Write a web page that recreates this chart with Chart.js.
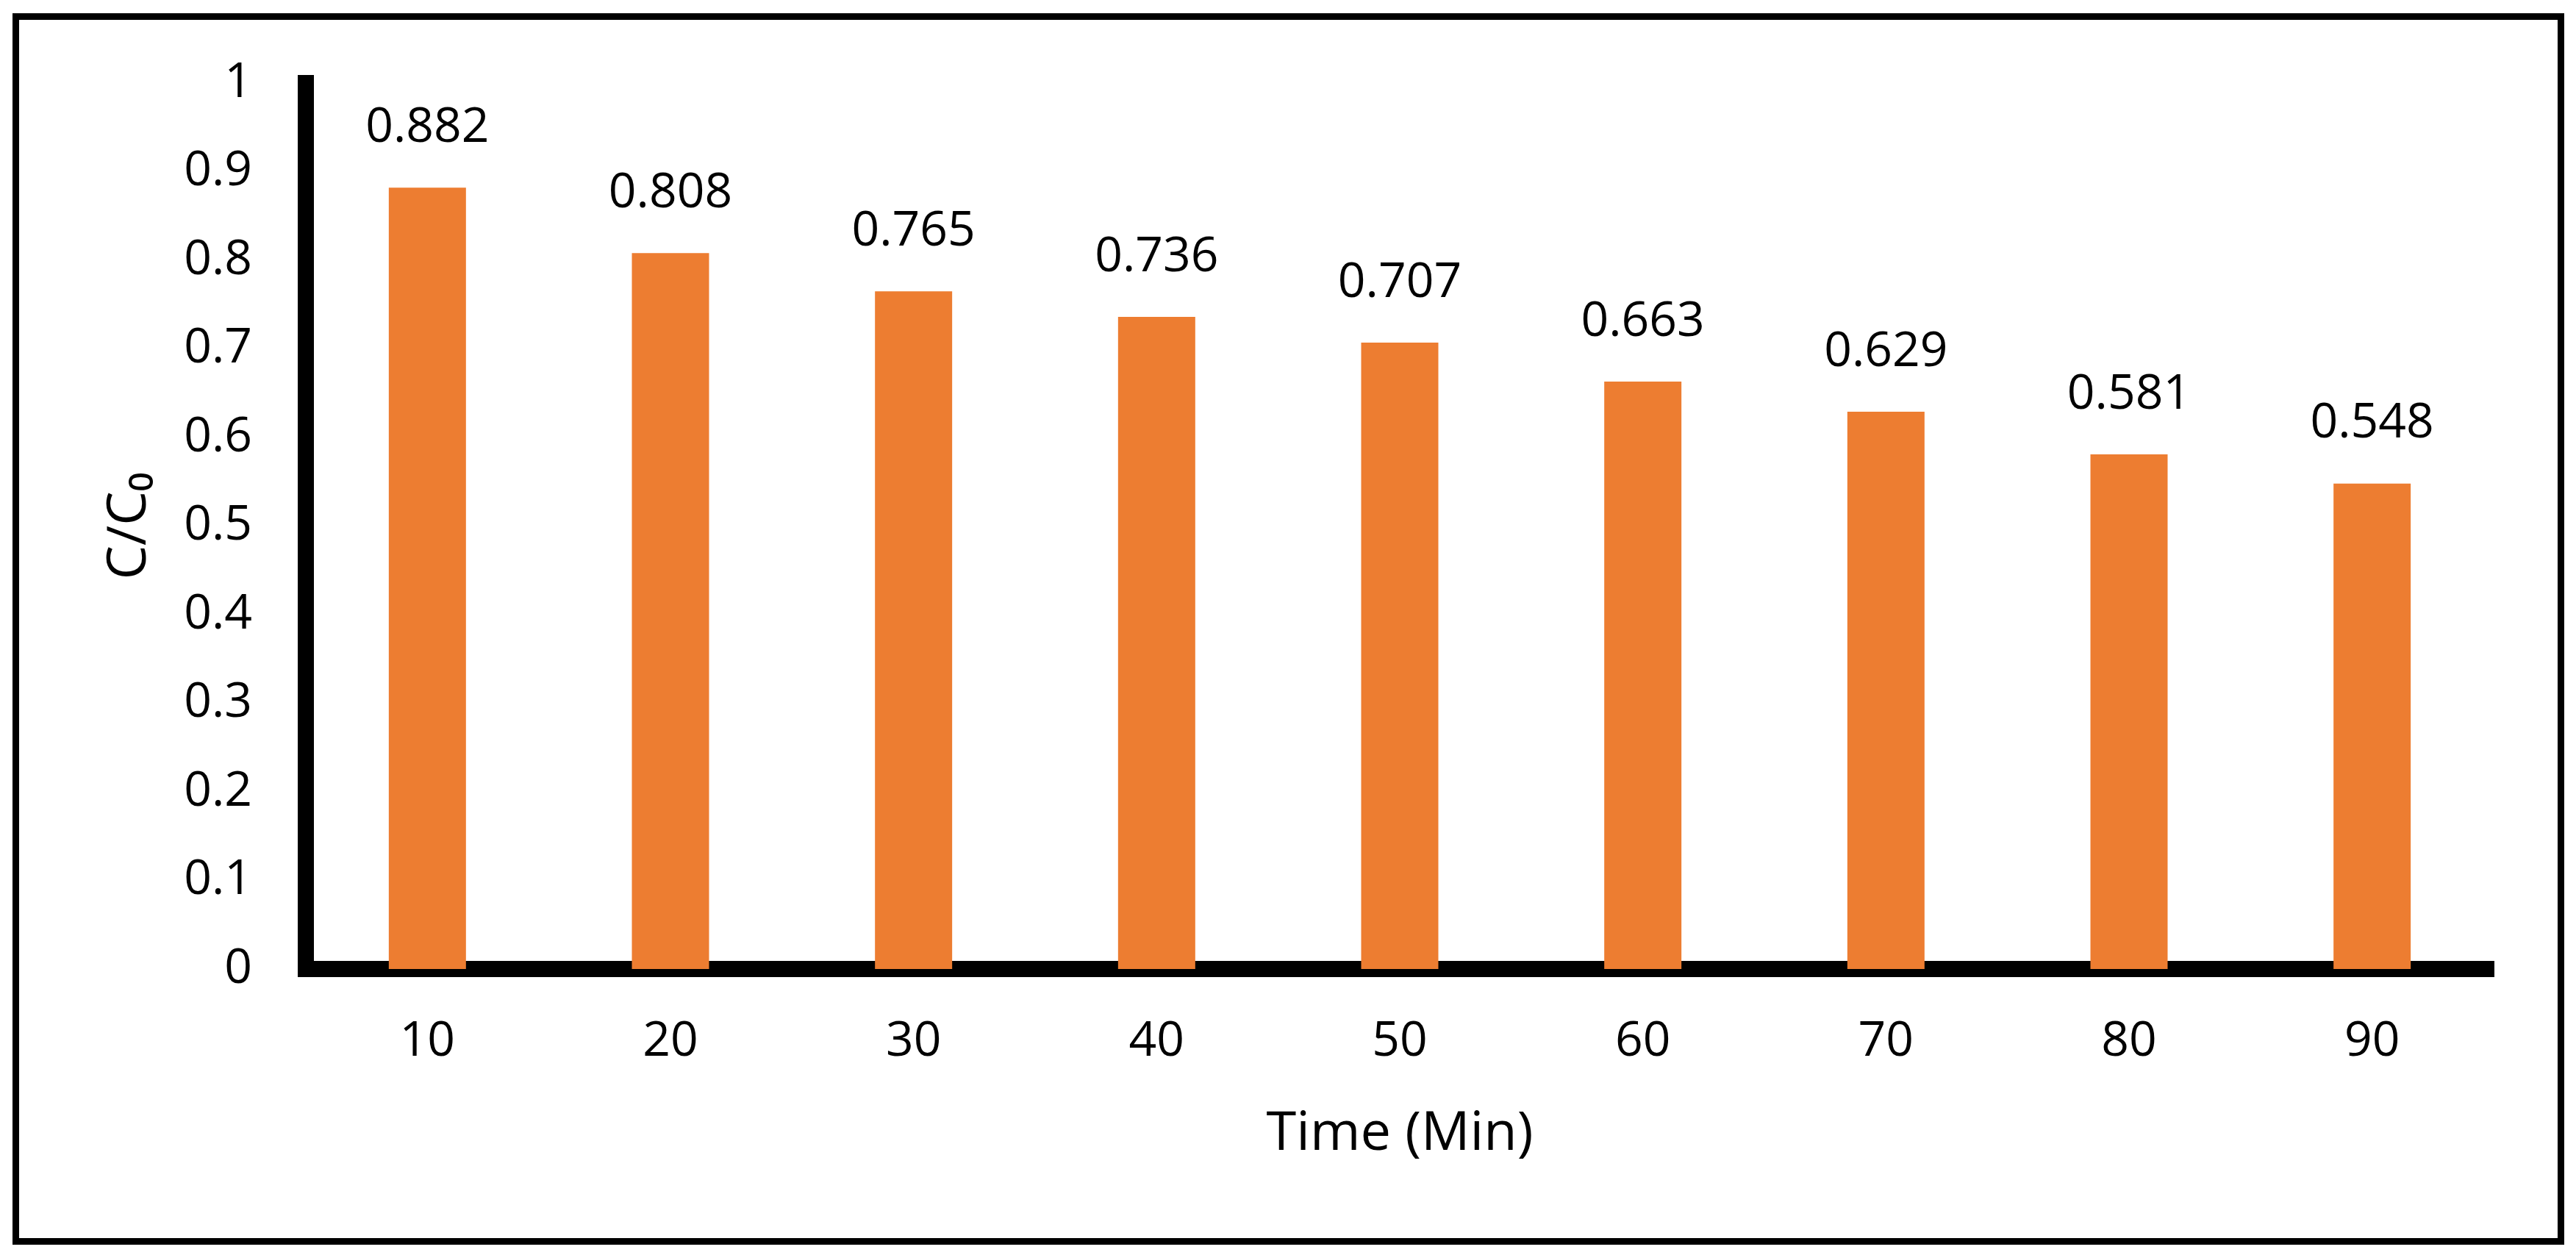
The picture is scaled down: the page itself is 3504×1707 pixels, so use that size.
<!DOCTYPE html>
<html>
<head>
<meta charset="utf-8">
<title>C/C0 x Time</title>
<script src="https://cdn.jsdelivr.net/npm/chart.js"></script>
<style>
  body { margin: 0; background: #ffffff; }
  canvas { display: block; }
</style>
</head>
<body>
<canvas id="grafico-barras" width="3504" height="1707"></canvas>
<script>
// dados
const tempos = ['10', '20', '30', '40', '50', '60', '70', '80', '90'];
const razaoC = [0.882, 0.808, 0.765, 0.736, 0.707, 0.663, 0.629, 0.581, 0.548];
const ticksY = ['0', '0.1', '0.2', '0.3', '0.4', '0.5', '0.6', '0.7', '0.8', '0.9', '1'];

const fonte = 'Open Sans';

// valores em cima de cada barra
const rotulosBarras = {
  id: 'rotulosBarras',
  afterDatasetsDraw(chart) {
    const ctx = chart.ctx;
    const meta = chart.getDatasetMeta(0);
    ctx.save();
    ctx.font = `66px "${fonte}"`;
    ctx.fillStyle = '#000000';
    ctx.textAlign = 'center';
    ctx.textBaseline = 'middle';
    meta.data.forEach((barra, i) => {
      ctx.fillText(razaoC[i].toFixed(3), barra.x, barra.y - 81);
    });
    ctx.restore();
  }
};

// moldura preta em volta da figura
const moldura = {
  id: 'moldura',
  afterDraw(chart) {
    const ctx = chart.ctx;
    ctx.save();
    ctx.strokeStyle = '#000000';
    ctx.lineWidth = 9;
    ctx.strokeRect(21.5, 22.5, 3462, 1666);
    ctx.restore();
  }
};

criarGrafico();

function criarGrafico() {
  const ctx = document.getElementById('grafico-barras');

  new Chart(ctx, {
    type: 'bar',
    data: {
      labels: tempos,
      datasets: [
        {
          label: 'C/C0',
          data: razaoC,
          backgroundColor: '#ED7D31',
          barPercentage: 0.3175,
          categoryPercentage: 1
        }
      ]
    },
    options: {
      responsive: false,
      animation: false,
      layout: {
        padding: { top: 113, right: 112, bottom: 0, left: 0 }
      },
      plugins: {
        legend: { display: false },
        tooltip: { enabled: false }
      },
      scales: {
        x: {
          z: 1,
          grid: { display: false, drawTicks: false, tickLength: 0 },
          border: { display: true, color: '#000000', width: 22 },
          ticks: {
            color: '#000000',
            font: { family: fonte, size: 66 },
            padding: 60
          },
          title: {
            display: true,
            text: 'Time (Min)',
            color: '#000000',
            font: { family: fonte, size: 74 },
            padding: { top: 0, bottom: 120 }
          },
          afterFit(scale) {
            scale.height = 389;
          }
        },
        y: {
          z: 1,
          min: 0,
          max: 1,
          grid: { display: false, drawTicks: false, tickLength: 0 },
          border: { display: true, color: '#000000', width: 22 },
          ticks: {
            stepSize: 0.1,
            color: '#000000',
            font: { family: fonte, size: 66 },
            padding: 73,
            callback: (valor, i) => ticksY[i]
          },
          title: {
            display: true,
            text: 'C/C\u2080',
            color: '#000000',
            font: { family: fonte, size: 74 },
            padding: { top: 133, bottom: 0 }
          },
          afterFit(scale) {
            scale.width = 416;
          }
        }
      }
    },
    plugins: [rotulosBarras, moldura]
  });
}
</script>
</body>
</html>
